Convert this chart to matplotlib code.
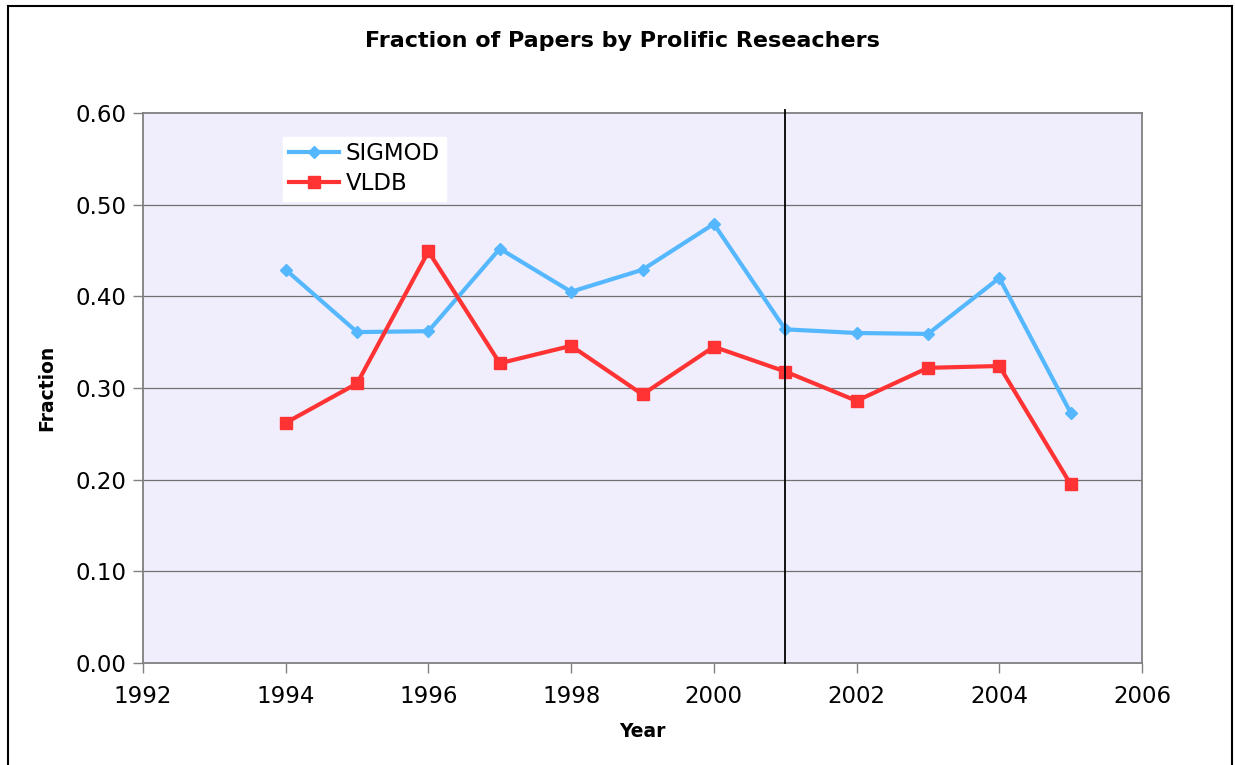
import matplotlib
matplotlib.use('Agg')
import matplotlib.pyplot as plt
from matplotlib.lines import Line2D

# --- Dados ---
anos = [1994, 1995, 1996, 1997, 1998, 1999, 2000, 2001, 2002, 2003, 2004, 2005]
sigmod = [0.429, 0.361, 0.362, 0.452, 0.405, 0.429, 0.479, 0.364, 0.360, 0.359, 0.420, 0.273]
vldb = [0.262, 0.305, 0.449, 0.327, 0.346, 0.293, 0.345, 0.318, 0.286, 0.322, 0.324, 0.195]
ano_marcado = 2001
yticks = [0.0, 0.1, 0.2, 0.3, 0.4, 0.5, 0.6]
xticks = [1992, 1994, 1996, 1998, 2000, 2002, 2004, 2006]

cor_sigmod = '#55B8FF'
cor_vldb = '#FF3333'
cinza = '#808080'

fig = plt.figure(figsize=(12.35, 7.65), dpi=100)
ax = fig.add_axes([0.1158, 0.1333, 0.8089, 0.719])

# moldura da figura
fig.add_artist(Line2D([0.0065, 0.0065], [0.0, 0.992], transform=fig.transFigure, color='black', lw=1.5))
fig.add_artist(Line2D([0.0065, 0.9975], [0.992, 0.992], transform=fig.transFigure, color='black', lw=1.5))
fig.add_artist(Line2D([0.9975, 0.9975], [0.0, 0.992], transform=fig.transFigure, color='black', lw=1.5))

ax.set_facecolor('#F0EEFC')
for y in yticks[1:-1]:
    ax.axhline(y, color='#707070', lw=0.9, zorder=1)

ax.plot(anos, sigmod, color=cor_sigmod, lw=3.0, marker='D', markersize=6.5, label='SIGMOD', zorder=3)
ax.plot(anos, vldb, color=cor_vldb, lw=3.0, marker='s', markersize=8.5, label='VLDB', zorder=3)

ax.axvline(ano_marcado, ymin=0, ymax=1.005, color='black', lw=1.3, zorder=4, clip_on=False)

ax.set_xlim(1992, 2006)
ax.set_ylim(0, 0.6)
ax.set_xticks(xticks)
ax.set_yticks(yticks)
ax.set_yticklabels([f'{v:.2f}' for v in yticks])

for s in ax.spines.values():
    s.set_color(cinza)
    s.set_linewidth(1.3)

ax.tick_params(axis='both', colors=cinza, labelcolor='black', labelsize=16.5, length=7, width=1)
ax.tick_params(axis='x', pad=9)
ax.tick_params(axis='y', pad=5)

ax.set_xlabel('Year', fontsize=13.5, fontweight='bold', labelpad=10)
ax.set_ylabel('Fraction', fontsize=13.5, fontweight='bold', labelpad=14)
fig.text(0.504, 0.946, 'Fraction of Papers by Prolific Reseachers', ha='center', va='center',
         fontsize=16, fontweight='bold')

leg = ax.legend(loc='upper left', bbox_to_anchor=(0.14, 0.957), fontsize=16.5, frameon=True,
                fancybox=False, edgecolor='white', facecolor='white', framealpha=1,
                handlelength=2.2, borderpad=0.25, labelspacing=0.3, handletextpad=0.3,
                borderaxespad=0)

fig.savefig('out.png', dpi=100)
